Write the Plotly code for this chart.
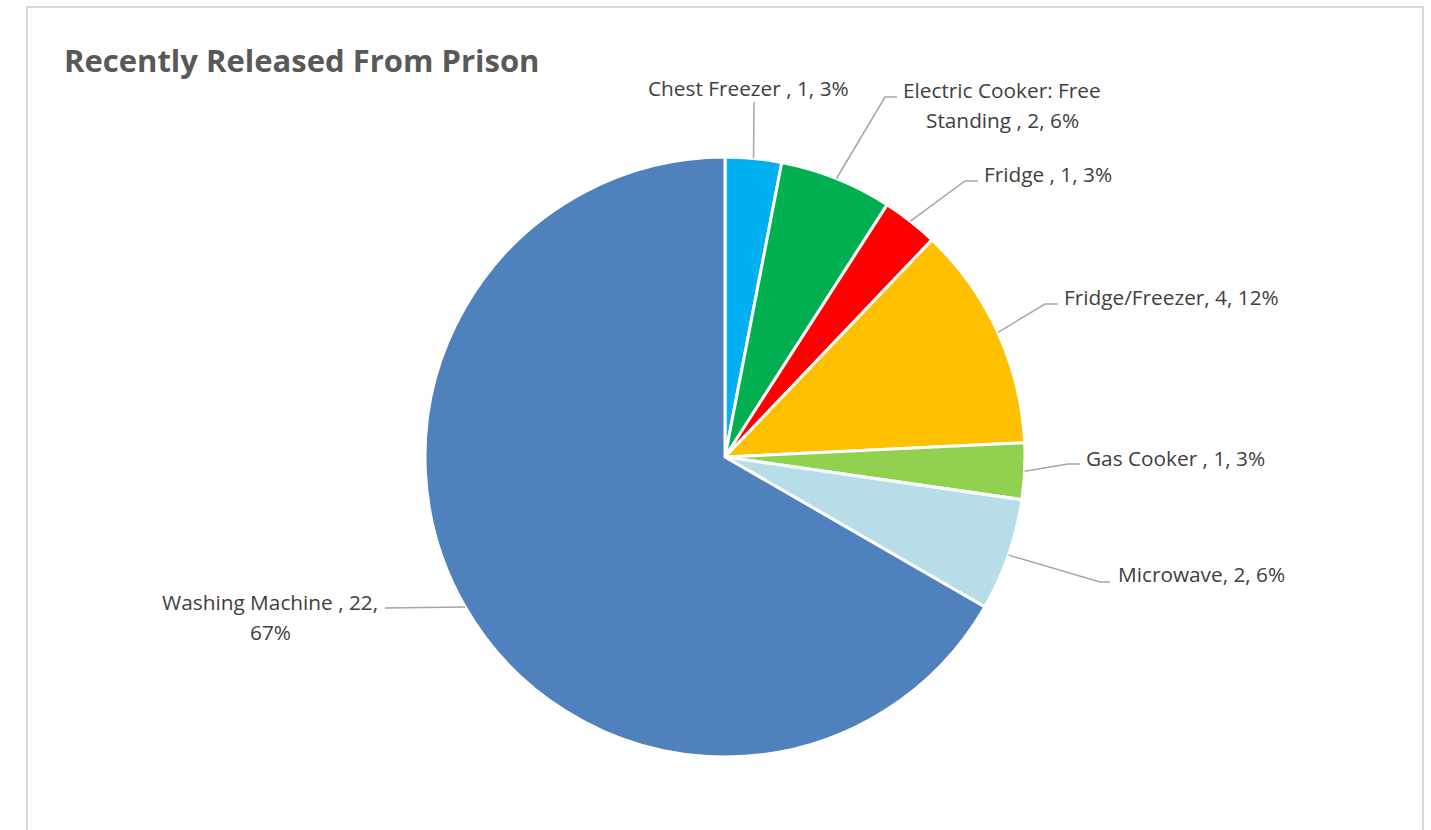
import math
import plotly.graph_objects as go

W, H = 1431, 830

categories = ["Chest Freezer ", "Electric Cooker: Free Standing ", "Fridge ", "Fridge/Freezer",
              "Gas Cooker ", "Microwave", "Washing Machine "]
values = [1, 2, 1, 4, 1, 2, 22]
colors = ["#00B0F0", "#00B050", "#FF0000", "#FFC000", "#92D050", "#B7DEE8", "#4F81BD"]
label_texts = ["Chest Freezer , 1, 3%", "Electric Cooker: Free<br>Standing , 2, 6%", "Fridge , 1, 3%",
               "Fridge/Freezer, 4, 12%", "Gas Cooker , 1, 3%", "Microwave, 2, 6%",
               "Washing Machine , 22,<br>67%"]

# pie geometry (pixels)
CX, CY, R = 725, 457, 300

# label layout (pixel positions): label centre, leader line bend points
label_layout = [
    dict(lx=748, ly=88, pts=[(754, 102)]),
    dict(lx=1002, ly=105, pts=[(885, 97), (897, 97)]),
    dict(lx=1048, ly=174, pts=[(965, 181), (978, 181)]),
    dict(lx=1171, ly=297, pts=[(1045, 304), (1058, 304)]),
    dict(lx=1175, ly=458, pts=[(1068, 464), (1080, 464)]),
    dict(lx=1201, ly=574, pts=[(1100, 582), (1110, 582)]),
    dict(lx=270, ly=617, pts=[(385, 608)]),
]
LINE_GAP = 30


def px(x, y):
    return x / W, 1 - y / H


FONT = "Open Sans"
TXT = "#404040"
TITLE = "#595959"

fig = go.Figure()
fig.add_trace(go.Pie(
    labels=categories, values=values, sort=False, direction="clockwise", rotation=0,
    marker=dict(colors=colors, line=dict(color="white", width=3)),
    textinfo="none", showlegend=False,
    domain=dict(x=[(CX - R) / W, (CX + R) / W], y=[1 - (CY + R) / H, 1 - (CY - R) / H]),
))

total = sum(values)
cum = 0
shapes = []
annotations = []
for v, txt, lay in zip(values, label_texts, label_layout):
    mid = (cum + v / 2) / total * 2 * math.pi
    cum += v
    ex = CX + R * math.sin(mid)
    ey = CY - R * math.cos(mid)
    pts = [(ex, ey)] + lay["pts"]
    path = "M " + " L ".join(f"{px(a, b)[0]:.5f},{px(a, b)[1]:.5f}" for a, b in pts)
    shapes.append(dict(type="path", xref="paper", yref="paper", path=path,
                       line=dict(color="#A6A6A6", width=1.5)))
    lines = txt.split("<br>")
    n = len(lines)
    for i, ln in enumerate(lines):
        yy = lay["ly"] + (i - (n - 1) / 2) * LINE_GAP
        x0, y0 = px(lay["lx"], yy)
        annotations.append(dict(x=x0, y=y0, xref="paper", yref="paper", text=ln, showarrow=False,
                                xanchor="center", yanchor="middle", align="center",
                                font=dict(family=FONT, size=20.8, color=TXT)))

# chart border
bx0, by0 = px(27, 7)
bx1, by1 = px(1423, 850)
shapes.append(dict(type="rect", xref="paper", yref="paper", x0=bx0, y0=by1, x1=bx1, y1=by0,
                   line=dict(color="#D9D9D9", width=2), layer="below"))

tx, ty = px(62, 60)
annotations.append(dict(x=tx, y=ty, xref="paper", yref="paper", text="<b>Recently Released From Prison</b>",
                        showarrow=False, xanchor="left", yanchor="middle",
                        font=dict(family=FONT, size=31, color=TITLE)))

fig.update_layout(width=W, height=H, margin=dict(l=0, r=0, t=0, b=0),
                  paper_bgcolor="white", plot_bgcolor="white",
                  shapes=shapes, annotations=annotations)
fig.write_html("out.html")
